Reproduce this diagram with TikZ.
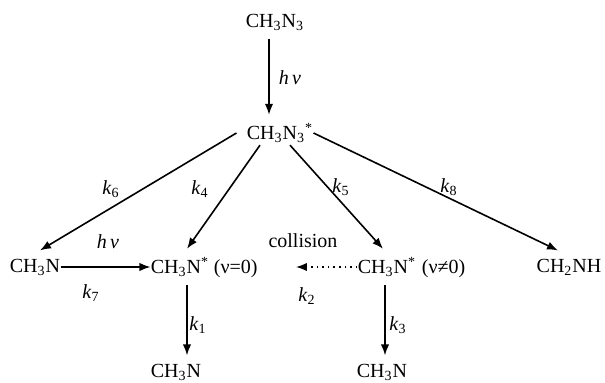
\documentclass[tikz,border=0pt]{standalone}
\usepackage{fontspec}
\setmainfont{Liberation Serif}
\usetikzlibrary{arrows.meta,positioning}
\tikzset{
  rxspecies/.style={inner xsep=0pt, inner ysep=4pt, font=\normalsize},
  rxtag/.style={inner xsep=1pt, inner ysep=4pt, font=\normalsize, anchor=base west},
  rxrate/.style={inner sep=1pt, font=\normalsize},
  rxedge/.style={-{Latex[length=5.5pt,width=4.2pt]}, line width=0.8pt},
  rxquench/.style={rxedge, dotted}
}
\newcommand{\rk}[1]{\textit{k}\textsubscript{#1}}
\newcommand{\hnu}{\textit{h\,ν}}

\begin{document}
\begin{tikzpicture}[x=0.5pt,y=-0.5pt]
  \useasboundingbox (0,0) rectangle (605,383);
  % Species
  \node[rxspecies] (azide) at (275,22) {CH\textsubscript{3}N\textsubscript{3}};
  \node[rxspecies] (azidex) at (280,133) {CH\textsubscript{3}N\textsubscript{3}\textsuperscript{*}};
  \node[rxspecies] (nitrene) at (35,267) {CH\textsubscript{3}N};
  \node[rxspecies] (cold) at (180,267) {CH\textsubscript{3}N\textsuperscript{*}};
  \node[rxtag] (coldtag) at ([xshift=1pt]cold.base east) {(ν=0)};
  \node[rxspecies] (hot) at (387,267) {CH\textsubscript{3}N\textsuperscript{*}};
  \node[rxtag] (hottag) at ([xshift=1.5pt]hot.base east) {(ν≠0)};
  \node[rxspecies] (imine) at (569,267) {CH\textsubscript{2}NH};
  \node[rxspecies] (prodA) at (176,372) {CH\textsubscript{3}N};
  \node[rxspecies] (prodB) at (382,372) {CH\textsubscript{3}N};

  % Photolysis and branching
  \draw[rxedge] ([xshift=-3pt]azide.south) -- ([xshift=-5.5pt]azidex.north);
  \draw[rxedge] ([xshift=-5pt]azidex.west) -- ([xshift=2.5pt]nitrene.north);
  \draw[rxedge] ([xshift=-10pt,yshift=3pt]azidex.south) -- ([xshift=3.5pt]cold.north);
  \draw[rxedge] ([xshift=5pt,yshift=3pt]azidex.south) -- ([xshift=-2pt]hot.north);
  \draw[rxedge] (azidex.east) -- ([xshift=-5.5pt]imine.north);

  % Second row
  \draw[rxedge] (nitrene.east) -- (cold.west);
  \draw[rxquench] (hot.west) -- ([xshift=18pt]coldtag.east |- hot.west);
  \draw[rxedge] ([xshift=3.5pt]cold.south) -- ([xshift=5.5pt]prodA.north);
  \draw[rxedge] ([xshift=-1pt]hot.south) -- ([xshift=1.5pt]prodB.north);

  % Rate labels
  \node[rxrate] (hv1) at (290,78) {\hnu};
  \node[rxrate] (r6) at (111,189) {\rk{6}};
  \node[rxrate] (r4) at (200,189) {\rk{4}};
  \node[rxrate] (r5) at (341,187) {\rk{5}};
  \node[rxrate] (r8) at (449,187) {\rk{8}};
  \node[rxrate] (hv2) at (108,242) {\hnu};
  \node[rxrate] (r7) at (91,293) {\rk{7}};
  \node[rxrate] (coll) at (303,241) {collision};
  \node[rxrate] (r2) at (307,296) {\rk{2}};
  \node[rxrate] (r1) at (198,325) {\rk{1}};
  \node[rxrate] (r3) at (398,325) {\rk{3}};
\end{tikzpicture}
\end{document}
